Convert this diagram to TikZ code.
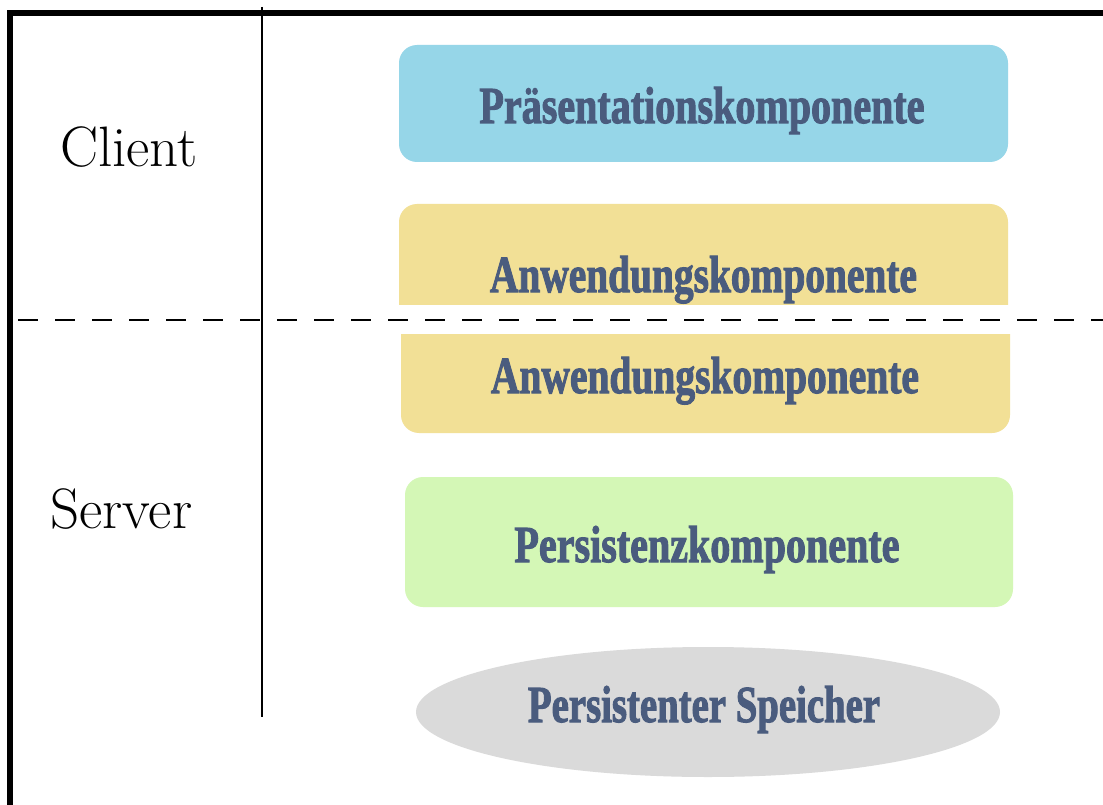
\documentclass[tikz,border=0pt]{standalone}
\usepackage{fontspec}
\usepackage{graphicx}
\usetikzlibrary{shapes.geometric}

% Heavy condensed face for the component labels
\newfontfamily\posterfont{Liberation Serif}[FakeBold=2.2]
\newcommand{\posterlabel}[2]{\resizebox{#1}{36pt}{\posterfont\bfseries #2}}

\definecolor{presblue}{RGB}{150,214,232}
\definecolor{appyellow}{RGB}{242,224,150}
\definecolor{persgreen}{RGB}{212,247,182}
\definecolor{storegray}{RGB}{218,218,218}
\definecolor{labelslate}{RGB}{74,92,126}

\tikzset{
  frameline/.style={line width=6pt, line join=miter},
  tierline/.style={line width=2pt},
  splitline/.style={line width=2.5pt, dash pattern=on 20pt off 17pt},
  layerbox/.style={rounded corners=18pt, inner sep=0pt, draw=none},
  layertext/.style={anchor=base, inner sep=0pt, text=labelslate},
  sidelabel/.style={anchor=base west, inner sep=0pt, font=\fontsize{57}{60}\selectfont},
}

\begin{document}
\begin{tikzpicture}[x=1pt, y=-1pt]
  \useasboundingbox (0,0) rectangle (1103,805);
  \fill[white] (0,0) rectangle (1103,805);

  % outer frame (left and top only)
  \coordinate (frameBL) at (10,805);
  \coordinate (frameTL) at (10,13);
  \coordinate (frameTR) at (1103,13);
  \draw[frameline] (frameBL) -- (frameTL) -- (frameTR);

  % tier separator and client/server split
  \coordinate (tierTop) at (262,7);
  \coordinate (tierBottom) at (262,717);
  \draw[tierline] (tierTop) -- (tierBottom);
  \coordinate (splitL) at (18,320);
  \coordinate (splitR) at (1103,320);
  \draw[splitline] (splitL) -- (splitR);

  % side labels
  \node[sidelabel] (client) at (60,167) {Client};
  \node[sidelabel] (server) at (50,528) {Server};

  % presentation layer
  \node[layerbox, fill=presblue, minimum width=609pt, minimum height=117pt]
    (pres) at (703.5,103.5) {};
  \node[layertext] (presText) at (702,123)
    {\posterlabel{445pt}{Präsentationskomponente}};

  % application layer, client part (rounded on top only)
  \begin{scope}
    \clip (380,190) rectangle (1030,304);
    \node[layerbox, fill=appyellow, minimum width=609pt, minimum height=130pt]
      (appClient) at (703.5,269) {};
  \end{scope}
  \node[layertext] (appClientText) at (703.5,292)
    {\posterlabel{427pt}{Anwendungskomponente}};

  % application layer, server part (rounded at the bottom only)
  \begin{scope}
    \clip (380,334) rectangle (1030,450);
    \node[layerbox, fill=appyellow, minimum width=609pt, minimum height=130pt]
      (appServer) at (705.5,368) {};
  \end{scope}
  \node[layertext] (appServerText) at (705,393)
    {\posterlabel{428pt}{Anwendungskomponente}};

  % persistence layer
  \node[layerbox, fill=persgreen, minimum width=608pt, minimum height=130pt]
    (pers) at (709,542) {};
  \node[layertext] (persText) at (707,562)
    {\posterlabel{385pt}{Persistenzkomponente}};

  % persistent storage
  \node[ellipse, fill=storegray, inner sep=0pt, minimum width=584pt, minimum height=130pt]
    (store) at (708,712) {};
  \node[layertext] (storeText) at (704,722)
    {\posterlabel{352pt}{Persistenter Speicher}};
\end{tikzpicture}
\end{document}
